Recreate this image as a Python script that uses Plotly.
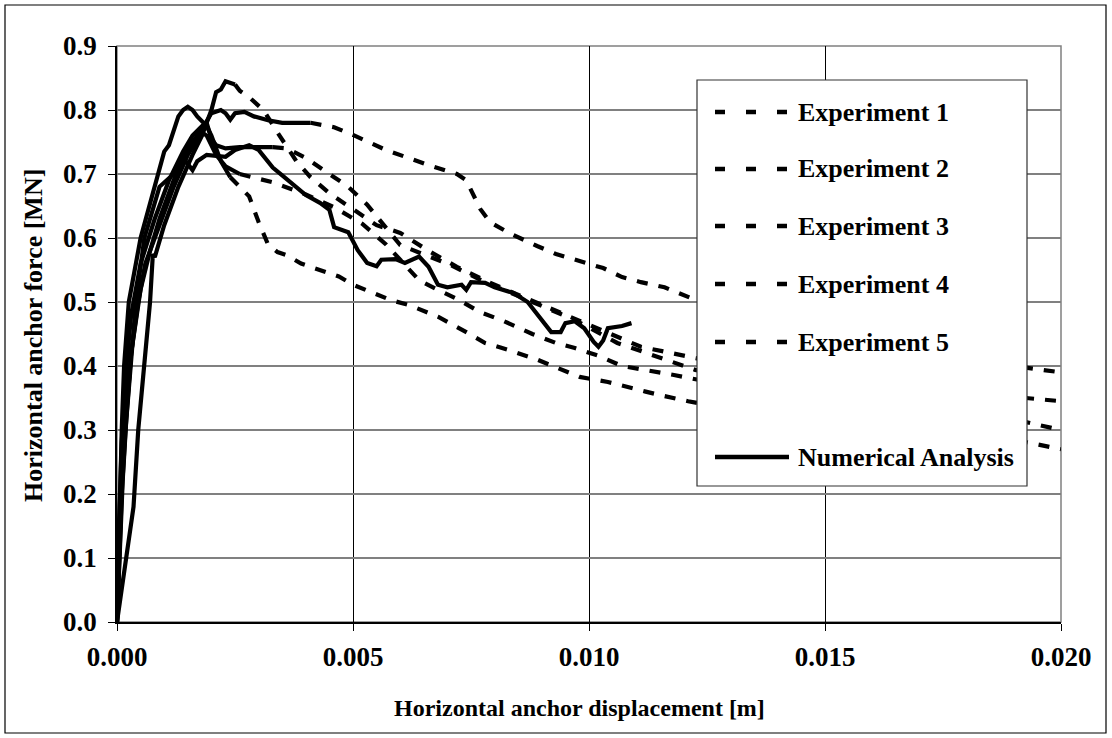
import plotly.graph_objects as go

# ---------------- data ----------------
x_ticks = [0.000, 0.005, 0.010, 0.015, 0.020]
y_ticks = [0.0, 0.1, 0.2, 0.3, 0.4, 0.5, 0.6, 0.7, 0.8, 0.9]
series_names = ["Experiment 1", "Experiment 2", "Experiment 3",
                "Experiment 4", "Experiment 5", "Numerical Analysis"]
x_title = "Horizontal anchor displacement [m]"
y_title = "Horizontal anchor force [MN]"

exp1_x = [0, 0.00005, 0.0001, 0.0002, 0.0003, 0.0005, 0.0007, 0.0009, 0.0012, 0.0015,
          0.0018, 0.002, 0.0022, 0.0023, 0.0024, 0.0025, 0.0027, 0.0029, 0.0032, 0.0035,
          0.0041, 0.0046, 0.005, 0.0057, 0.0066, 0.0072, 0.0074, 0.0077, 0.0079, 0.0083,
          0.0089, 0.0093, 0.0098, 0.0103, 0.0107, 0.0111, 0.0116, 0.0122, 0.0135, 0.016,
          0.018, 0.020]
exp1_y = [0, 0.12, 0.22, 0.33, 0.42, 0.52, 0.58, 0.63, 0.69, 0.74,
          0.77, 0.795, 0.80, 0.795, 0.785, 0.795, 0.797, 0.79, 0.784, 0.78,
          0.78, 0.773, 0.761, 0.7375, 0.714, 0.70, 0.69, 0.645, 0.625, 0.608,
          0.5875, 0.575, 0.564, 0.553, 0.539, 0.531, 0.523, 0.505, 0.47, 0.43,
          0.41, 0.39]

exp2_x = [0, 0.0001, 0.0002, 0.0003, 0.00035, 0.00045, 0.00058, 0.0007, 0.00076, 0.0008,
          0.001, 0.0013, 0.0016, 0.0018, 0.0019, 0.002, 0.0021, 0.0022, 0.0023, 0.0025,
          0.0026, 0.0028, 0.0031, 0.0034, 0.0038, 0.0041, 0.0045, 0.005, 0.0055, 0.006,
          0.0066, 0.0072, 0.0079, 0.0087, 0.0095, 0.0103, 0.0111, 0.01225, 0.014, 0.017,
          0.020]
exp2_y = [0, 0.05, 0.10, 0.15, 0.18, 0.30, 0.40, 0.50, 0.575, 0.57,
          0.62, 0.68, 0.73, 0.76, 0.78, 0.80, 0.828, 0.832, 0.845, 0.84,
          0.83, 0.82, 0.80, 0.765, 0.72, 0.695, 0.67, 0.645, 0.62, 0.608,
          0.58, 0.555, 0.53, 0.505, 0.48, 0.455, 0.43, 0.4125, 0.39, 0.365,
          0.345]

exp3_x = [0, 0.00004, 0.0001, 0.0002, 0.0003, 0.0005, 0.0008, 0.0011, 0.0014, 0.0016,
          0.0018, 0.0019, 0.002, 0.0021, 0.0023, 0.0026, 0.0033, 0.0036, 0.004, 0.0044,
          0.0049, 0.0053, 0.0057, 0.006, 0.00706, 0.0078, 0.0088, 0.0097, 0.0106, 0.0114,
          0.01225, 0.014, 0.0165, 0.0185, 0.020]
exp3_y = [0, 0.15, 0.28, 0.40, 0.48, 0.56, 0.63, 0.69, 0.735, 0.76,
          0.775, 0.78, 0.755, 0.745, 0.74, 0.742, 0.742, 0.74, 0.725, 0.705,
          0.68, 0.652, 0.615, 0.589, 0.558, 0.531, 0.50, 0.472, 0.436, 0.415,
          0.394, 0.37, 0.345, 0.325, 0.30]

exp4_x = [0, 0.00005, 0.00012, 0.0002, 0.0003, 0.00045, 0.0006, 0.0009, 0.0012, 0.0015,
          0.0017, 0.0018, 0.0019, 0.0021, 0.0023, 0.0026, 0.0029, 0.0033, 0.004, 0.0046,
          0.0052, 0.0057, 0.006, 0.0064, 0.0068, 0.0072, 0.0077, 0.0082, 0.0088, 0.0093,
          0.0097, 0.0102, 0.0107, 0.0112, 0.0118, 0.0122, 0.014, 0.017, 0.020]
exp4_y = [0, 0.10, 0.22, 0.32, 0.42, 0.50, 0.56, 0.62, 0.68, 0.73,
          0.755, 0.765, 0.76, 0.73, 0.712, 0.70, 0.695, 0.687, 0.668, 0.648,
          0.622, 0.59, 0.566, 0.534, 0.519, 0.505, 0.484, 0.47, 0.45, 0.436,
          0.428, 0.416, 0.40, 0.394, 0.386, 0.38, 0.355, 0.315, 0.27]

exp5_x = [0, 0.00003, 0.00006, 0.0001, 0.00015, 0.00025, 0.0005, 0.0008, 0.001, 0.0011,
          0.0013, 0.0014, 0.0015, 0.0016, 0.0017, 0.0019, 0.002, 0.0022, 0.0024, 0.0028,
          0.003, 0.0032, 0.0034, 0.0036, 0.0039, 0.0043, 0.0047, 0.005, 0.0054, 0.0058,
          0.0062, 0.0068, 0.0074, 0.0078, 0.0083, 0.0089, 0.0093, 0.0098, 0.0104, 0.0108,
          0.0112, 0.0116, 0.0121, 0.0135, 0.015, 0.0165]
exp5_y = [0, 0.10, 0.20, 0.30, 0.40, 0.50, 0.60, 0.68, 0.735, 0.745,
          0.79, 0.80, 0.805, 0.80, 0.79, 0.775, 0.76, 0.72, 0.695, 0.665,
          0.625, 0.59, 0.578, 0.573, 0.56, 0.55, 0.54, 0.527, 0.515, 0.503,
          0.495, 0.477, 0.453, 0.436, 0.425, 0.41, 0.398, 0.383, 0.375, 0.367,
          0.36, 0.353, 0.345, 0.325, 0.305, 0.29]

num_x = [0, 0.00005, 0.0001, 0.00018, 0.00028, 0.0004, 0.00058, 0.0009, 0.0012, 0.0014,
         0.0016, 0.0017, 0.0019, 0.0023, 0.0025, 0.0028, 0.003, 0.0033, 0.0035, 0.0037,
         0.004, 0.0043, 0.0045, 0.0046, 0.0049, 0.0051, 0.0053, 0.0055, 0.0056, 0.0059,
         0.0061, 0.0064, 0.0066, 0.0068, 0.007, 0.0073, 0.0074, 0.0075, 0.0078, 0.008,
         0.0084, 0.0087, 0.009, 0.0092, 0.0094, 0.0095, 0.0097, 0.0099, 0.0101, 0.0102,
         0.0103, 0.0104, 0.0107, 0.0109]
num_y = [0, 0.10, 0.20, 0.30, 0.40, 0.50, 0.60, 0.68, 0.70, 0.725,
         0.706, 0.72, 0.73, 0.727, 0.7375, 0.745, 0.7375, 0.71, 0.698, 0.686,
         0.667, 0.655, 0.644, 0.617, 0.609, 0.581, 0.561, 0.556, 0.566, 0.567,
         0.561, 0.571, 0.555, 0.527, 0.523, 0.527, 0.519, 0.531, 0.530, 0.523,
         0.514, 0.50, 0.472, 0.453, 0.453, 0.467, 0.470, 0.459, 0.4375, 0.43,
         0.44, 0.459, 0.4625, 0.467]

experiments = [(exp1_x, exp1_y), (exp2_x, exp2_y), (exp3_x, exp3_y),
               (exp4_x, exp4_y), (exp5_x, exp5_y)]

# ---------------- style / layout ----------------
W, H = 1112, 738
PL, PR, PT, PB = 117, 1061, 46, 622          # plot area in pixels
FONT = "Liberation Serif"
FS_TICK = 27
FS_LEG = 26
FS_TITLE = 24
LW = 4.2
DASH = "11px,11px"
# the dense measured part of each test looks continuous, the rest dashed
solid_until = [0.0041, 0.0025, 0.0033, 0.0026, 0.0024]


def px(xpix):
    return (xpix - PL) / (PR - PL)


def py(ypix):
    return (PB - ypix) / (PB - PT)


fig = go.Figure()

for (xs, ys), split in zip(experiments, solid_until):
    sx = [x for x in xs if x <= split]
    sy = ys[:len(sx)]
    dx = xs[len(sx) - 1:]
    dy = ys[len(sx) - 1:]
    fig.add_trace(go.Scatter(x=sx, y=sy, mode="lines", showlegend=False,
                             line=dict(color="black", width=LW), hoverinfo="skip"))
    fig.add_trace(go.Scatter(x=dx, y=dy, mode="lines", showlegend=False,
                             line=dict(color="black", width=LW, dash=DASH),
                             hoverinfo="skip"))

fig.add_trace(go.Scatter(x=num_x, y=num_y, mode="lines", showlegend=False,
                         line=dict(color="black", width=LW), hoverinfo="skip"))

tickfont = dict(family=FONT, size=FS_TICK, color="black", weight="bold")

fig.update_xaxes(range=[x_ticks[0], x_ticks[-1]], tickvals=x_ticks,
                 ticktext=[f"{v:.3f}" for v in x_ticks],
                 ticks="outside", ticklen=7, tickcolor="black", tickwidth=1,
                 showgrid=True, gridcolor="black", gridwidth=1,
                 showline=True, linecolor="black", linewidth=1.5,
                 zeroline=False, tickfont=tickfont, ticklabelstandoff=3)
fig.update_yaxes(range=[y_ticks[0], y_ticks[-1]], tickvals=y_ticks,
                 ticktext=[f"{v:.1f}" for v in y_ticks],
                 ticks="outside", ticklen=7, tickcolor="black", tickwidth=1,
                 showgrid=True, gridcolor="#808080", gridwidth=1.5,
                 showline=True, linecolor="black", linewidth=1.5,
                 zeroline=False, tickfont=tickfont, ticklabelstandoff=6)

shapes = []
# plot-area border (grey) and outer chart border
shapes.append(dict(type="rect", xref="paper", yref="paper", x0=0, x1=1, y0=0, y1=1,
                   line=dict(color="#808080", width=1.5), layer="below"))
shapes.append(dict(type="rect", xref="paper", yref="paper",
                   x0=px(5), x1=px(1106), y0=py(733), y1=py(5),
                   line=dict(color="black", width=1.2)))
# legend box
shapes.append(dict(type="rect", xref="paper", yref="paper",
                   x0=px(697), x1=px(1027), y0=py(486), y1=py(80),
                   line=dict(color="#333333", width=1.2), fillcolor="white"))
legend_rows = [112, 169, 226, 284, 342, 457]
annotations = []
for i, (name, yr) in enumerate(zip(series_names, legend_rows)):
    is_num = (i == len(series_names) - 1)
    shapes.append(dict(type="line", xref="paper", yref="paper",
                       x0=px(715), x1=px(789 if is_num else 788),
                       y0=py(yr), y1=py(yr),
                       line=dict(color="black", width=4.5,
                                 dash="solid" if is_num else "10px,21px")))
    annotations.append(dict(xref="paper", yref="paper", x=px(796), y=py(yr),
                            text=name, showarrow=False, xanchor="left",
                            yanchor="middle",
                            font=dict(family=FONT, size=FS_LEG, color="black",
                                      weight="bold")))

annotations.append(dict(xref="paper", yref="paper", x=px(579), y=py(708),
                        text=x_title, showarrow=False, xanchor="center",
                        yanchor="middle",
                        font=dict(family=FONT, size=FS_TITLE, color="black",
                                  weight="bold")))
annotations.append(dict(xref="paper", yref="paper", x=px(33), y=py(336),
                        text=y_title, showarrow=False, xanchor="center",
                        yanchor="middle", textangle=-90,
                        font=dict(family=FONT, size=FS_TITLE + 2, color="black",
                                  weight="bold")))

fig.update_layout(width=W, height=H,
                  margin=dict(l=PL, r=W - PR, t=PT, b=H - PB, pad=0),
                  paper_bgcolor="white", plot_bgcolor="white",
                  font=dict(family=FONT, color="black"),
                  shapes=shapes, annotations=annotations, showlegend=False)

fig.write_html("out.html")
